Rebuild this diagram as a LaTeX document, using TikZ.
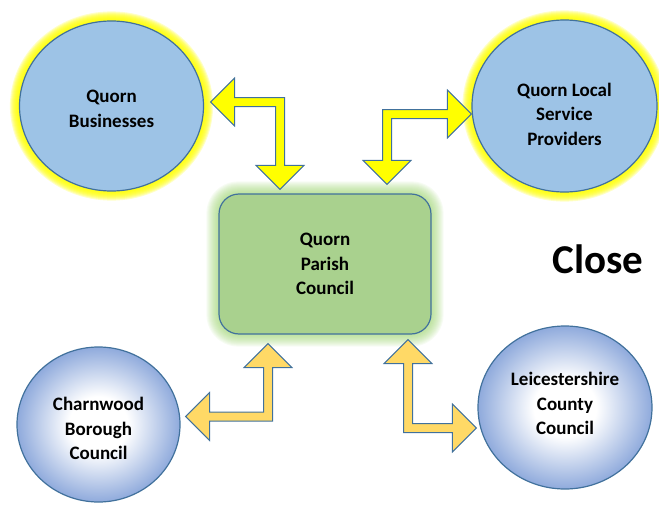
\documentclass[tikz,border=0pt]{standalone}
\usepackage{fontspec}
\setmainfont{Carlito}
\usepackage{tikz}
\usetikzlibrary{backgrounds}
\usetikzlibrary{calc}
\usetikzlibrary{shapes.geometric}
\definecolor{fillblue}{HTML}{9DC3E6}
\definecolor{lineblue}{HTML}{41719C}
\definecolor{fillgreen}{HTML}{A9D18E}
\definecolor{glowgreen}{HTML}{9BD36E}
\definecolor{arrowyellow}{HTML}{FFFF00}
\definecolor{arrowgold}{HTML}{FFD966}
\definecolor{bubbleblue}{HTML}{8FAADC}
\pgfdeclareradialshading{bubble}{\pgfpoint{0bp}{0bp}}{color(0bp)=(white); color(9bp)=(white); color(25bp)=(bubbleblue); color(50bp)=(bubbleblue)}

% block arrow sizes
\def\headlen{24pt}
\def\headwid{24pt}
\def\shaft{4.5pt}

% bent block arrow: #2 tip of the level leg, #3 tip of the upright leg
\newcommand{\bentarrow}[5]{%
  \path[#1] let \p1=(#2), \p2=(#3), \n1={abs(\x1-\x2)}, \n2={abs(\y1-\y2)} in
    [shift={(\x2,\y1)}, xscale=#4, yscale=#5]
    (-\n1,0pt) -- (-\n1+\headlen,\headwid) -- (-\n1+\headlen,\shaft)
    -- (\shaft,\shaft) -- (\shaft,-\n2+\headlen) -- (\headwid,-\n2+\headlen)
    -- (0pt,-\n2) -- (-\headwid,-\n2+\headlen) -- (-\shaft,-\n2+\headlen)
    -- (-\shaft,-\shaft) -- (-\n1+\headlen,-\shaft) -- (-\n1+\headlen,-\headwid) -- cycle;}

\begin{document}
\begin{tikzpicture}[
            x = 1pt, y = -1pt, % pixel grid
            line width = 1.2pt,
            every node/.style = {font=\bfseries\fontsize{19}{24.5}\selectfont, align=center, inner sep=0pt}
        ]

        \tikzstyle{partner}=[ellipse, draw=lineblue, fill=fillblue]
        \tikzstyle{council}=[ellipse, draw=lineblue, shade, shading=bubble]
        \tikzstyle{parish}=[rectangle, rounded corners=20pt, draw=lineblue, fill=fillgreen]
        \tikzstyle{yellowarrow}=[fill=arrowyellow, draw=lineblue, line width=1pt, line join=miter]
        \tikzstyle{goldarrow}=[fill=arrowgold, draw=lineblue, line width=1pt, line join=miter]

        \useasboundingbox (0,0) rectangle (659,506);

        % partners
        \node[partner, minimum width=184pt, minimum height=170pt,
              label={[yshift=-3pt]center:Quorn\\Businesses}] (QB) at (111.5,106) {};
        \node[partner, minimum width=185pt, minimum height=172pt,
              label={[yshift=-8pt]center:Quorn Local\\Service\\Providers}] (QL) at (564.5,106) {};

        % parish council
        \node[parish, minimum width=212pt, minimum height=140pt] (QPC) at (325,264) {Quorn\\Parish\\Council};

        % councils
        \node[council, minimum width=163pt, minimum height=155pt,
              label={[yshift=-4pt]center:Charnwood\\Borough\\Council}] (CBC) at (98.5,424.5) {};
        \node[council, minimum width=174pt, minimum height=163pt,
              label={[yshift=4pt]center:Leicestershire\\County\\Council}] (LCC) at (565,407.5) {};

        \node[anchor=base west, font=\bfseries\fontsize{41}{41}\selectfont] (close) at (552,273) {Close};

        % glows
        \begin{scope}[on background layer]
          \foreach \nd in {QB, QL}
            \foreach \g in {1,...,9}
              \fill[arrowyellow, opacity=0.22] let \p0=(\nd.center), \p1=(\nd.east), \p2=(\nd.north) in
                (\p0) ellipse [x radius=\x1-\x0+\g*1pt, y radius=\y2-\y0+\g*1pt];
          \foreach \g [evaluate=\g as \r using 20+\g] in {1,...,12}
            \fill[glowgreen, opacity=0.08, rounded corners=\r pt] let \p1=(QPC.south west), \p2=(QPC.north east) in
              (\x1-\g*1pt,\y1-\g*1pt) rectangle (\x2+\g*1pt,\y2+\g*1pt);
        \end{scope}

        % arrow tips
        \coordinate (tl h) at ($(QB.east)+(6.5,-4)$);
        \coordinate (tl v) at ($(QPC.north)+(-45,-4)$);
        \coordinate (tr h) at ($(QL.west)+(0,8)$);
        \coordinate (tr v) at ($(QPC.north)+(62,-9)$);
        \coordinate (bl h) at ($(CBC.east)+(5,-8)$);
        \coordinate (bl v) at ($(QPC.south)+(-57,9)$);
        \coordinate (br h) at ($(LCC.west)+(-1,20.5)$);
        \coordinate (br v) at ($(QPC.south)+(83,5)$);

        \bentarrow{yellowarrow}{tl h}{tl v}{1}{1}
        \bentarrow{yellowarrow}{tr h}{tr v}{-1}{1}
        \bentarrow{goldarrow}{bl h}{bl v}{1}{-1}
        \bentarrow{goldarrow}{br h}{br v}{-1}{-1}

\end{tikzpicture}
\end{document}
